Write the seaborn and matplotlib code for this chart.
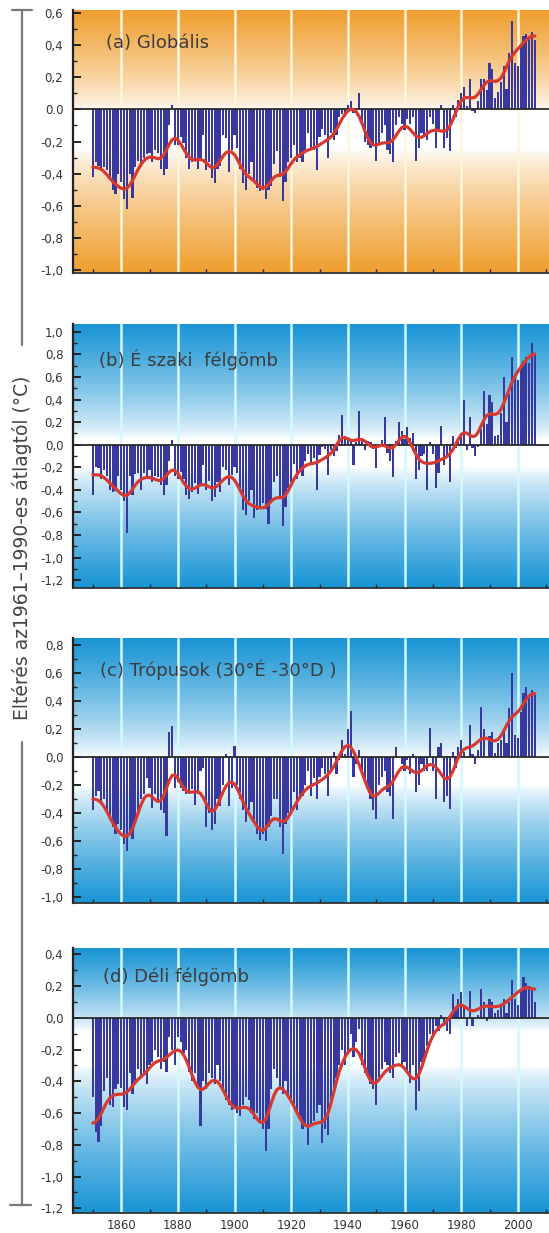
import numpy as np
import pandas as pd
import matplotlib
matplotlib.use("Agg")
import matplotlib.pyplot as plt
import seaborn as sns
from matplotlib.colors import to_rgb
from matplotlib.lines import Line2D
from matplotlib.ticker import MultipleLocator, FixedLocator

# ---------------- data ----------------
years = list(range(1850, 2007))

global_anom = [
    -0.42, -0.33, -0.35, -0.37, -0.36, -0.38, -0.43, -0.50, -0.53, -0.40,
    -0.45, -0.56, -0.62, -0.40, -0.55, -0.36, -0.32, -0.36, -0.30, -0.28,
    -0.27, -0.33, -0.25, -0.27, -0.37, -0.41, -0.37, -0.10, 0.03, -0.22,
    -0.22, -0.17, -0.21, -0.30, -0.37, -0.33, -0.31, -0.37, -0.30, -0.16,
    -0.38, -0.33, -0.43, -0.46, -0.37, -0.35, -0.16, -0.18, -0.39, -0.25,
    -0.16, -0.24, -0.37, -0.46, -0.50, -0.40, -0.33, -0.45, -0.49, -0.51,
    -0.50, -0.56, -0.50, -0.48, -0.34, -0.26, -0.42, -0.57, -0.45, -0.33,
    -0.30, -0.22, -0.33, -0.30, -0.33, -0.25, -0.15, -0.25, -0.25, -0.38,
    -0.17, -0.12, -0.16, -0.30, -0.15, -0.19, -0.16, -0.05, -0.03, -0.05,
    0.03, 0.05, -0.02, 0.00, 0.10, -0.08, -0.20, -0.22, -0.24, -0.22,
    -0.32, -0.22, -0.15, -0.10, -0.25, -0.28, -0.33, -0.10, -0.05, -0.09,
    -0.13, -0.06, -0.09, -0.05, -0.32, -0.24, -0.15, -0.16, -0.19, -0.05,
    -0.09, -0.24, -0.12, 0.03, -0.24, -0.18, -0.26, 0.03, -0.05, 0.06,
    0.10, 0.14, 0.02, 0.19, -0.01, -0.02, 0.05, 0.19, 0.19, 0.12,
    0.29, 0.25, 0.07, 0.11, 0.17, 0.27, 0.13, 0.35, 0.55, 0.29,
    0.27, 0.40, 0.46, 0.47, 0.45, 0.48, 0.43,
]

nh_anom = [
    -0.45, -0.20, -0.21, -0.30, -0.22, -0.28, -0.40, -0.42, -0.41, -0.28,
    -0.40, -0.50, -0.78, -0.28, -0.45, -0.26, -0.25, -0.40, -0.25, -0.30,
    -0.22, -0.33, -0.28, -0.29, -0.36, -0.45, -0.36, -0.14, 0.04, -0.28,
    -0.30, -0.24, -0.30, -0.45, -0.48, -0.42, -0.34, -0.44, -0.36, -0.18,
    -0.40, -0.32, -0.50, -0.46, -0.33, -0.42, -0.20, -0.22, -0.36, -0.27,
    -0.20, -0.25, -0.40, -0.58, -0.62, -0.50, -0.40, -0.65, -0.58, -0.55,
    -0.52, -0.57, -0.70, -0.52, -0.33, -0.28, -0.47, -0.72, -0.55, -0.38,
    -0.33, -0.17, -0.30, -0.22, -0.28, -0.14, -0.08, -0.16, -0.12, -0.40,
    -0.09, -0.02, -0.04, -0.27, -0.05, -0.10, -0.06, 0.09, 0.26, 0.08,
    0.04, 0.04, -0.18, 0.02, 0.30, 0.06, -0.05, 0.03, 0.02, -0.04,
    -0.21, 0.01, 0.04, 0.25, -0.07, -0.14, -0.29, 0.03, 0.20, 0.12,
    0.05, 0.16, 0.06, 0.10, -0.30, -0.22, -0.10, -0.08, -0.40, 0.02,
    -0.08, -0.38, -0.25, 0.17, -0.18, -0.10, -0.33, 0.08, -0.03, 0.02,
    0.10, 0.40, -0.05, 0.25, -0.03, -0.10, -0.02, 0.14, 0.48, 0.18,
    0.44, 0.38, 0.08, 0.09, 0.28, 0.60, 0.20, 0.45, 0.78, 0.62,
    0.57, 0.70, 0.74, 0.78, 0.72, 0.90, 0.80,
]

tropics_anom = [
    -0.38, -0.28, -0.24, -0.32, -0.30, -0.38, -0.45, -0.50, -0.55, -0.48,
    -0.52, -0.62, -0.67, -0.55, -0.58, -0.48, -0.38, -0.30, -0.26, -0.15,
    -0.22, -0.36, -0.26, -0.32, -0.38, -0.40, -0.56, 0.18, 0.22, -0.22,
    -0.18, -0.22, -0.24, -0.26, -0.26, -0.23, -0.34, -0.26, -0.10, -0.08,
    -0.50, -0.40, -0.52, -0.48, -0.30, -0.35, -0.20, 0.02, -0.35, -0.22,
    0.08, -0.20, -0.30, -0.38, -0.46, -0.38, -0.32, -0.46, -0.55, -0.59,
    -0.55, -0.60, -0.50, -0.42, -0.30, -0.30, -0.50, -0.69, -0.48, -0.40,
    -0.40, -0.25, -0.38, -0.30, -0.28, -0.20, -0.10, -0.28, -0.15, -0.30,
    -0.14, -0.08, -0.12, -0.28, -0.10, 0.04, -0.12, -0.02, 0.12, 0.02,
    0.20, 0.33, -0.14, -0.05, 0.05, -0.10, -0.18, -0.22, -0.30, -0.38,
    -0.44, -0.20, -0.14, -0.10, -0.25, -0.28, -0.44, 0.07, 0.00, -0.05,
    -0.10, -0.02, -0.12, 0.02, -0.25, -0.20, -0.05, -0.10, -0.10, 0.21,
    -0.10, -0.30, 0.07, 0.10, -0.32, -0.28, -0.37, 0.04, -0.08, 0.07,
    0.12, 0.04, 0.00, 0.23, 0.02, -0.05, 0.05, 0.36, 0.20, 0.00,
    0.15, 0.18, 0.03, 0.10, 0.12, 0.18, 0.10, 0.35, 0.60, 0.16,
    0.14, 0.32, 0.46, 0.50, 0.42, 0.48, 0.44,
]

sh_anom = [
    -0.50, -0.72, -0.78, -0.68, -0.46, -0.38, -0.55, -0.56, -0.45, -0.42,
    -0.44, -0.56, -0.58, -0.35, -0.48, -0.40, -0.32, -0.38, -0.36, -0.42,
    -0.30, -0.28, -0.20, -0.25, -0.32, -0.28, -0.34, -0.12, -0.20, -0.30,
    -0.12, -0.15, -0.22, -0.20, -0.34, -0.40, -0.35, -0.45, -0.68, -0.40,
    -0.45, -0.35, -0.38, -0.42, -0.30, -0.40, -0.45, -0.52, -0.55, -0.58,
    -0.56, -0.60, -0.62, -0.55, -0.50, -0.52, -0.60, -0.64, -0.60, -0.66,
    -0.70, -0.84, -0.70, -0.45, -0.32, -0.38, -0.45, -0.48, -0.40, -0.50,
    -0.52, -0.55, -0.60, -0.62, -0.70, -0.68, -0.80, -0.68, -0.65, -0.60,
    -0.55, -0.79, -0.70, -0.74, -0.52, -0.45, -0.38, -0.30, -0.20, -0.30,
    -0.22, -0.10, -0.25, -0.15, -0.07, -0.30, -0.35, -0.38, -0.42, -0.45,
    -0.55, -0.38, -0.32, -0.28, -0.30, -0.35, -0.38, -0.25, -0.22, -0.30,
    -0.28, -0.35, -0.41, -0.30, -0.58, -0.46, -0.28, -0.25, -0.18, -0.10,
    -0.12, -0.05, -0.08, 0.02, -0.05, -0.08, -0.10, 0.15, 0.05, 0.12,
    0.16, 0.08, -0.05, 0.17, -0.05, 0.00, 0.02, 0.18, 0.10, -0.02,
    0.12, 0.10, 0.03, 0.05, 0.08, 0.12, 0.03, 0.10, 0.24, 0.12,
    0.08, 0.18, 0.26, 0.22, 0.20, 0.18, 0.10,
]

titles = ["(a) Globális", "(b) É szaki  félgömb",
          "(c) Trópusok (30°É -30°D )", "(d) Déli félgömb"]

ticks_a = [0.6, 0.4, 0.2, 0.0, -0.2, -0.4, -0.6, -0.8, -1.0]
labels_a = ["0,6", "0,4", "0,2", "0.0", "-0,2", "-0,4", "-0,6", "-0,8", "-1,0"]
ticks_b = [1.0, 0.8, 0.6, 0.4, 0.2, 0.0, -0.2, -0.4, -0.6, -0.8, -1.0, -1.2]
labels_b = ["1,0", "0,8", "0,6", "0,4", "0,2", "0,0", "-0,2", "-0,4", "-0,6",
            "-0,8", "-1,0", "-1,2"]
ticks_c = [0.8, 0.6, 0.4, 0.2, 0.0, -0.2, -0.4, -0.6, -0.8, -1.0]
labels_c = ["0,8", "0,6", "0,4", "0,2", "0,0", "-0,2", "-0,4", "-0,6", "-0,8", "-1,0"]
ticks_d = [0.4, 0.2, 0.0, -0.2, -0.4, -0.6, -0.8, -1.0, -1.2]
labels_d = ["0,4", "0,2", "0,0", "-0,2", "-0,4", "-0,6", "-0,8", "-1,0", "-1,2"]

decade_ticks = [1860, 1880, 1900, 1920, 1940, 1960, 1980, 2000]
decade_labels = ["1860", "1880", "1900", "1920", "1940", "1960", "1980", "2000"]

ylabel_text = "Eltérés az1961–1990-es átlagtól (°C)"

# ---------------- style ----------------
sns.set_style("white")
plt.rcParams["font.family"] = ["DejaVu Sans"]

W, H = 549, 1233
fig = plt.figure(figsize=(W / 100, H / 100), dpi=100)

ORANGE = "#EF9E2E"
BLUE = "#1894D4"
BAR = "#38389E"
RED = "#D8392F"


def smooth13(v):
    w = np.array([1, 6, 19, 42, 71, 96, 106, 96, 71, 42, 19, 6, 1]) / 576.0
    p = np.pad(np.asarray(v, dtype=float), 6, mode="reflect")
    return np.convolve(p, w, mode="valid")


def px_axes(top, bottom, left=73, right=549):
    return [left / W, 1 - bottom / H, (right - left) / W, (bottom - top) / H]


XLIM = (1843, 2011)

panels = [
    dict(title=titles[0], vals=global_anom, rect=px_axes(10, 273), ylim=(-1.02, 0.62),
         ticks=ticks_a, labels=labels_a, base=ORANGE, lo=-0.25, hi=-0.02,
         vline="#FFF6DC", tx=0.069, ty=0.875),
    dict(title=titles[1], vals=nh_anom, rect=px_axes(324, 588), ylim=(-1.27, 1.07),
         ticks=ticks_b, labels=labels_b, base=BLUE, lo=-0.2, hi=0.05,
         vline="#D2FAFF", tx=0.055, ty=0.864),
    dict(title=titles[2], vals=tropics_anom, rect=px_axes(638, 903), ylim=(-1.04, 0.85),
         ticks=ticks_c, labels=labels_c, base=BLUE, lo=-0.2, hi=0.0,
         vline="#D2FAFF", tx=0.057, ty=0.88),
    dict(title=titles[3], vals=sh_anom, rect=px_axes(948, 1213), ylim=(-1.23, 0.44),
         ticks=ticks_d, labels=labels_d, base=BLUE, lo=-0.3, hi=-0.08,
         vline="#D2FAFF", tx=0.063, ty=0.89),
]

for i, p in enumerate(panels):
    ax = fig.add_axes(p["rect"])
    y0, y1 = p["ylim"]

    # gradient background
    vals = np.linspace(y1, y0, 500)
    t = np.zeros_like(vals)
    up = vals > p["hi"]
    t[up] = (vals[up] - p["hi"]) / (y1 - p["hi"])
    dn = vals < p["lo"]
    t[dn] = (p["lo"] - vals[dn]) / (p["lo"] - y0)
    t = np.clip(t, 0, 1) ** 0.75
    base = np.array(to_rgb(p["base"]))
    white = np.array([1.0, 1.0, 1.0])
    rgb = white[None, :] * (1 - t)[:, None] + base[None, :] * t[:, None]
    img = np.repeat(rgb[:, None, :], 2, axis=1)
    ax.imshow(img, extent=[XLIM[0], XLIM[1], y0, y1], aspect="auto",
              zorder=0, interpolation="bilinear")

    for yr in decade_ticks:
        ax.axvline(yr, color=p["vline"], lw=1.8, zorder=1)

    df = pd.DataFrame({"year": years, "anom": p["vals"]})
    df["smooth"] = smooth13(df["anom"])

    sns.barplot(data=df, x="year", y="anom", native_scale=True, ax=ax,
                color=BAR, saturation=1, width=0.78, errorbar=None,
                linewidth=0, zorder=2)
    ax.axhline(0, color="#2A2A2A", lw=1.3, zorder=3)
    sns.lineplot(data=df, x="year", y="smooth", ax=ax, color=RED, lw=2.3,
                 zorder=4)

    ax.set_xlim(XLIM)
    ax.set_ylim(y0, y1)
    ax.set_xlabel("")
    ax.set_ylabel("")

    ax.yaxis.set_major_locator(FixedLocator(p["ticks"]))
    ax.set_yticklabels(p["labels"])
    ax.yaxis.set_minor_locator(MultipleLocator(0.1))
    ax.xaxis.set_major_locator(FixedLocator(decade_ticks))
    ax.xaxis.set_minor_locator(MultipleLocator(10))
    if i == 3:
        ax.set_xticklabels(decade_labels)
    else:
        ax.set_xticklabels([])

    ax.tick_params(axis="y", which="major", direction="in", length=6, width=1.4,
                   color="#222222", labelsize=8.5, labelcolor="#333333", pad=7,
                   left=True)
    ax.tick_params(axis="y", which="minor", direction="in", length=3, width=1.0,
                   color="#222222", left=True)
    ax.tick_params(axis="x", which="both", direction="in", length=3, width=1.0,
                   color="#222222", labelsize=8.5, labelcolor="#333333", pad=4,
                   bottom=True)

    for s in ["top", "right"]:
        ax.spines[s].set_visible(False)
    ax.spines["left"].set_color("#222222")
    ax.spines["left"].set_linewidth(1.6)
    ax.spines["bottom"].set_color("#333333")
    ax.spines["bottom"].set_linewidth(1.3)

    ax.text(p["tx"], p["ty"], p["title"], transform=ax.transAxes, fontsize=13,
            color="#3C3C3C", ha="left", va="center", zorder=6)

# y-axis label with bracket
fig.text(22 / W, 1 - 548 / H, ylabel_text, rotation=90, ha="center", va="center",
         fontsize=13.5, color="#444444")


def fline(xs, ys):
    fig.add_artist(Line2D([x / W for x in xs], [1 - y / H for y in ys],
                          transform=fig.transFigure, color="#7A7A7A", lw=1.6))


fline([21.5, 21.5], [10, 345])
fline([21.5, 21.5], [742, 1205])
fline([12, 32], [10, 10])
fline([10, 31], [1205, 1205])

fig.savefig("out.png", dpi=100)
